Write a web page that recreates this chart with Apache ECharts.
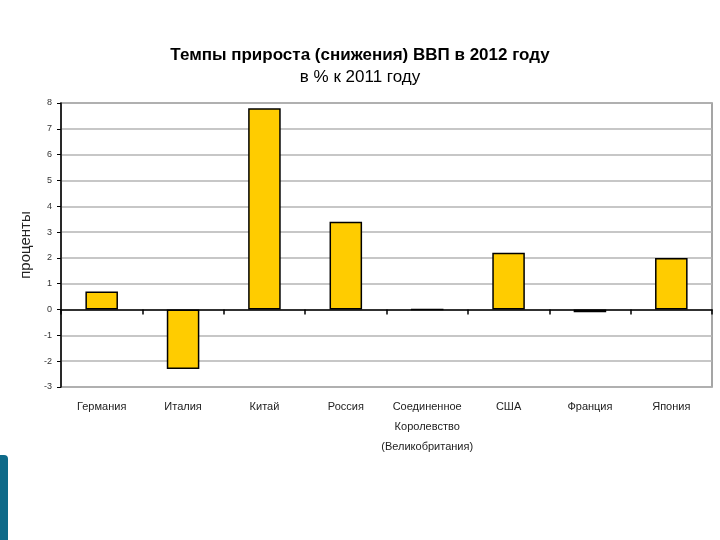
<!DOCTYPE html>
<html>
<head>
<meta charset="utf-8">
<script src="https://cdn.jsdelivr.net/npm/echarts@6/dist/echarts.min.js"></script>
<style>html,body{margin:0;padding:0;background:#fff;}#c{width:720px;height:540px;}</style>
</head>
<body>
<div id="c"></div>
<script>
const categories = ['Германия', 'Италия', 'Китай', 'Россия', 'Соединенное\nКоролевство\n(Великобритания)', 'США', 'Франция', 'Япония'];
const values = [0.7, -2.3, 7.8, 3.4, 0, 2.2, -0.1, 2.0];
const yMin = -3, yMax = 8, yStep = 1;

const chart = echarts.init(document.getElementById('c'), null, {renderer: 'canvas'});
chart.setOption({
  animation: false,
  backgroundColor: '#fff',
  title: {
    text: 'Темпы прироста (снижения) ВВП в 2012 году',
    subtext: 'в % к 2011 году',
    left: 'center',
    top: 42,
    itemGap: 5,
    textStyle: {fontFamily: 'Liberation Sans', fontSize: 17, fontWeight: 'bold', color: '#000'},
    subtextStyle: {fontFamily: 'Liberation Sans', fontSize: 17, color: '#000'}
  },
  grid: {left: 61, right: 8, top: 103, bottom: 153, show: true, borderColor: '#888', borderWidth: 1.5},
  graphic: [{
    type: 'rect', left: 0, top: 455,
    shape: {width: 8, height: 85, r: [0, 4, 0, 0]},
    style: {fill: '#0e6a89'}
  }],
  xAxis: [{
    type: 'category', data: categories, position: 'bottom',
    axisLine: {show: false, onZero: false}, axisTick: {show: false},
    axisLabel: {fontFamily: 'Liberation Sans', fontSize: 11, color: '#222', margin: 10, lineHeight: 20, interval: 0}
  }, {
    type: 'category', data: categories, position: 'bottom',
    axisLine: {show: true, onZero: true, lineStyle: {color: '#000', width: 1.5}},
    axisTick: {show: true, interval: 0, length: 5, lineStyle: {color: '#000', width: 1.5}},
    axisLabel: {show: false}
  }],
  yAxis: {
    type: 'value', min: yMin, max: yMax, interval: yStep,
    name: 'проценты', nameLocation: 'middle', nameGap: 24, nameRotate: 90,
    nameTextStyle: {fontFamily: 'Liberation Sans', fontSize: 15, color: '#222'},
    axisLine: {show: true, lineStyle: {color: '#000', width: 1.5}},
    axisTick: {show: true, length: 4, lineStyle: {color: '#000'}},
    axisLabel: {fontFamily: 'Liberation Sans', fontSize: 9, color: '#333', margin: 9},
    splitLine: {show: true, lineStyle: {color: '#b4b4b4', width: 1.5}}
  },
  series: [{
    type: 'bar', data: values, xAxisIndex: 0, barWidth: '40%',
    itemStyle: {color: '#ffcc00', borderColor: '#000', borderWidth: 1.5}
  }]
});
</script>
</body>
</html>
